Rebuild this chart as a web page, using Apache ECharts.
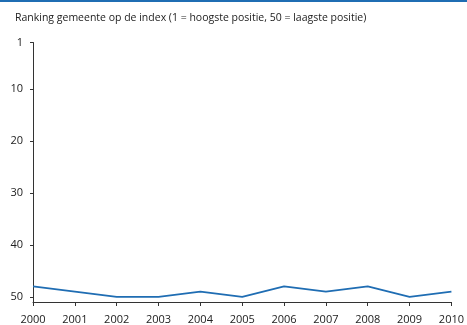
<!DOCTYPE html>
<html><head><meta charset="utf-8">
<script src="https://cdn.jsdelivr.net/npm/echarts@6/dist/echarts.min.js"></script>
<style>html,body{margin:0;padding:0;background:#fff}#c{width:467px;height:325px}</style>
</head><body><div id="c"></div>
<script>
const years = ['2000','2001','2002','2003','2004','2005','2006','2007','2008','2009','2010'];
const ranking = [48, 49, 50, 50, 49, 50, 48, 49, 48, 50, 49];
const yTicks = [1, 10, 20, 30, 40, 50];
const titleText = 'Ranking gemeente op de index (1 = hoogste positie, 50 = laagste positie)';

const chart = echarts.init(document.getElementById('c'), null, {renderer: 'canvas'});
const font = '"Open Sans", "Noto Sans", sans-serif';
chart.setOption({
  animation: false,
  graphic: [{type: 'rect', shape: {x: 0, y: 0, width: 467, height: 2}, style: {fill: '#1f6db3'}}],
  title: {text: titleText, left: 10, top: 8, textStyle: {fontSize: 10.5, fontWeight: 'normal', color: '#222', fontFamily: font}},
  grid: {left: 33, right: 12, top: 42.5, bottom: 23, containLabel: false},
  xAxis: {
    type: 'category', data: years, boundaryGap: false,
    axisLine: {lineStyle: {color: '#333', width: 1}},
    axisTick: {show: true, length: 4, lineStyle: {color: '#333'}},
    axisLabel: {color: '#222', fontSize: 11, fontFamily: font, margin: 12, interval: 0}
  },
  yAxis: {
    type: 'value', inverse: true, min: 1, max: 51,
    splitLine: {show: false},
    axisLine: {show: true, lineStyle: {color: '#333', width: 1}},
    axisTick: {show: true, length: 3, customValues: yTicks, lineStyle: {color: '#333'}},
    axisLabel: {customValues: yTicks, color: '#222', fontSize: 11, fontFamily: font, margin: 10}
  },
  series: [{
    type: 'line', data: ranking, symbol: 'none',
    lineStyle: {color: '#1f6db3', width: 1.8}
  }]
});
</script></body></html>
